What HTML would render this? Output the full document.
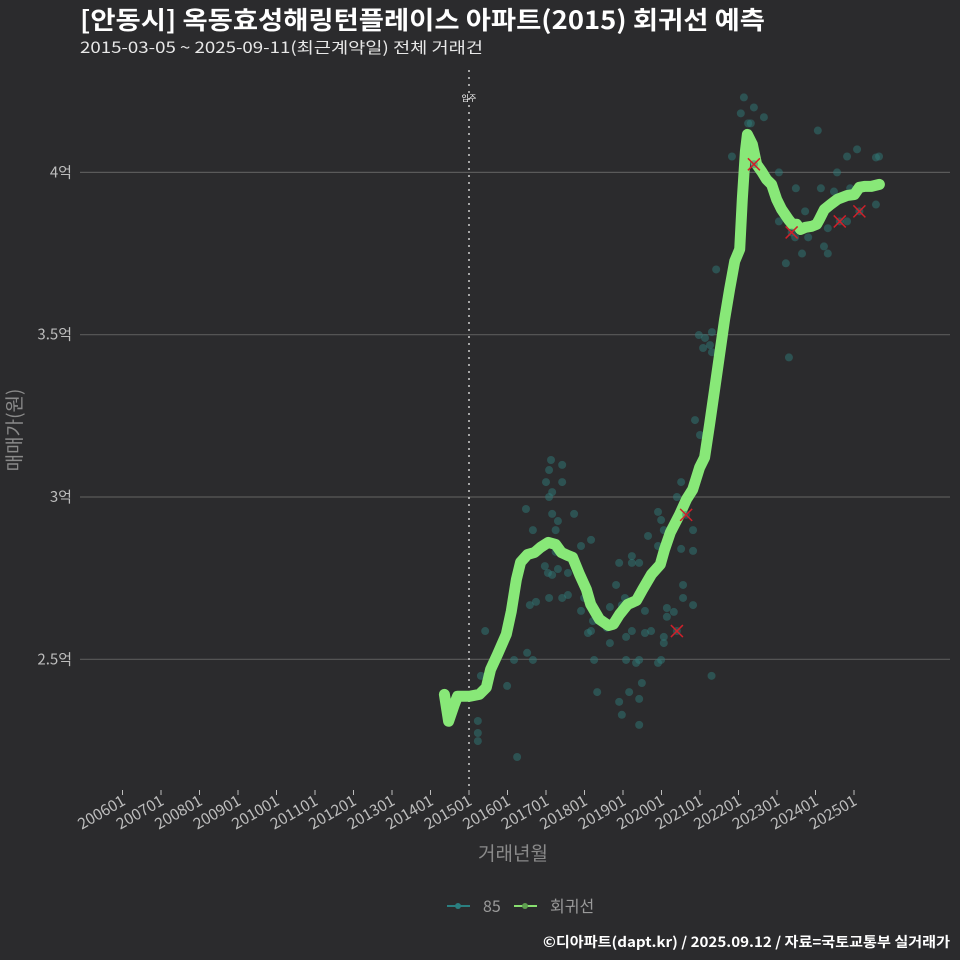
<!DOCTYPE html>
<html><head><meta charset="utf-8">
<style>
html,body{margin:0;padding:0;background:#2b2b2d;}
svg{display:block;font-family:"Noto Sans CJK KR","Liberation Sans",sans-serif;}
</style></head>
<body>
<svg id="chart" width="960" height="960" viewBox="0 0 960 960">
<rect width="960" height="960" fill="#2b2b2d"/>
<text x="80" y="29" fill="#ffffff" font-size="25" font-weight="bold" textLength="685" lengthAdjust="spacingAndGlyphs">[안동시] 옥동효성해링턴플레이스 아파트(2015) 회귀선 예측</text>
<text x="80" y="53" fill="#e8e8e8" font-size="15.5" textLength="403" lengthAdjust="spacingAndGlyphs">2015-03-05 ~ 2025-09-11(최근계약일) 전체 거래건</text>
<g id="grid"></g>
<g id="yaxis"></g>
<g id="xaxis"></g>
<g id="points"></g>
<g id="line"></g>
<g id="marks"></g>
<text x="0" y="0" transform="translate(21,430) rotate(-90)" text-anchor="middle" fill="#8a8a8a" font-size="19">매매가(원)</text>
<text x="513" y="860" text-anchor="middle" fill="#8a8a8a" font-size="19">거래년월</text>
<g>
<g>
<line x1="447" y1="906" x2="470" y2="906" stroke="#2a7f80" stroke-width="2"/>
<circle cx="458" cy="906" r="3" fill="#2a7f80"/>
<text x="483" y="912" fill="#9a9a9a" font-size="16">85</text>
</g>
<g>
<line x1="514" y1="906" x2="537" y2="906" stroke="#88e070" stroke-width="2"/>
<circle cx="525" cy="906" r="3" fill="#5fa050"/>
<text x="550" y="912" fill="#9a9a9a" font-size="16">회귀선</text>
</g>
</g>
<text x="950" y="947" text-anchor="end" fill="#ffffff" font-size="14" font-weight="bold" textLength="407" lengthAdjust="spacingAndGlyphs">©디아파트(dapt.kr) / 2025.09.12 / 자료=국토교통부 실거래가</text>
</svg>
<script>
const yTicks=[2.5,3,3.5,4];
const yTickLabels=["2.5억","3억","3.5억","4억"];
const xTickYears=[2006,2007,2008,2009,2010,2011,2012,2013,2014,2015,2016,2017,2018,2019,2020,2021,2022,2023,2024,2025];
const xTickLabels=["200601","200701","200801","200901","201001","201101","201201","201301","201401","201501","201601","201701","201801","201901","202001","202101","202201","202301","202401","202501"];
const moveInYear=2015.0;
const lineYears=[2014.36,2014.47,2014.62,2014.70,2015.01,2015.27,2015.45,2015.56,2015.74,2015.97,2016.10,2016.23,2016.34,2016.52,2016.70,2016.86,2017.06,2017.25,2017.40,2017.56,2017.69,2017.87,2018.05,2018.16,2018.39,2018.62,2018.75,2018.91,2019.12,2019.35,2019.51,2019.74,2019.97,2020.08,2020.23,2020.47,2020.65,2020.81,2020.99,2021.12,2021.25,2021.38,2021.51,2021.64,2021.77,2021.90,2022.03,2022.10,2022.18,2022.23,2022.36,2022.47,2022.60,2022.73,2022.86,2022.99,2023.12,2023.30,2023.40,2023.51,2023.61,2023.74,2023.90,2024.03,2024.10,2024.23,2024.39,2024.57,2024.83,2025.01,2025.14,2025.27,2025.45,2025.66];
const linePrices=[2.392,2.309,2.361,2.386,2.386,2.392,2.413,2.469,2.515,2.577,2.648,2.746,2.799,2.823,2.829,2.845,2.860,2.854,2.829,2.820,2.814,2.762,2.715,2.669,2.623,2.604,2.608,2.638,2.669,2.681,2.715,2.762,2.792,2.839,2.891,2.946,2.993,3.023,3.091,3.122,3.224,3.331,3.439,3.547,3.640,3.726,3.763,3.917,4.065,4.117,4.086,4.025,4.003,3.978,3.963,3.917,3.886,3.855,3.840,3.840,3.824,3.831,3.834,3.840,3.855,3.886,3.901,3.917,3.929,3.932,3.954,3.957,3.957,3.963];
const ptYears=[2015.42,2015.31,2015.23,2015.23,2015.23,2016.25,2015.99,2016.51,2016.66,2016.17,2016.58,2016.74,2017.08,2017.42,2017.57,2017.05,2017.16,2016.97,2017.31,2017.57,2017.25,2016.66,2016.48,2017.25,2017.31,2017.16,2017.08,2017.16,2017.73,2018.17,2017.91,2017.99,2017.91,2018.22,2018.09,2018.17,2018.66,2018.58,2018.66,2018.82,2018.90,2019.23,2019.23,2019.42,2019.05,2018.97,2018.90,2019.23,2019.08,2019.57,2019.73,2019.57,2020.14,2020.32,2020.14,2020.06,2020.06,2020.56,2020.56,2020.82,2020.82,2020.51,2020.82,2020.06,2019.99,2019.91,2020.40,2020.51,2019.65,2019.91,2019.08,2019.42,2019.34,2019.91,2019.99,2018.25,2018.33,2019.16,2018.90,2019.42,2019.49,2018.97,2019.42,2021.30,2017.42,2017.00,2017.08,2017.13,2017.42,2022.14,2022.40,2022.06,2022.66,2022.25,2022.32,2021.83,2024.06,2025.08,2024.82,2025.57,2025.65,2024.56,2023.05,2023.49,2024.14,2024.48,2024.90,2023.73,2023.05,2023.47,2023.81,2024.32,2024.82,2025.57,2024.22,2024.32,2023.65,2023.23,2023.31,2021.42,2020.97,2021.13,2021.31,2021.26,2021.08,2021.31,2021.00,2020.87];
const ptPrices=[2.587,2.449,2.310,2.273,2.248,2.199,2.418,2.520,2.498,2.498,2.667,2.677,2.689,2.689,2.698,2.766,2.760,2.787,2.778,2.766,2.831,2.898,2.963,2.898,2.926,2.948,3.000,3.015,2.948,2.868,2.849,2.689,2.649,2.618,2.581,2.587,2.550,2.597,2.661,2.729,2.797,2.818,2.797,2.797,2.689,2.667,2.640,2.587,2.569,2.581,2.587,2.649,2.658,2.646,2.631,2.569,2.550,2.729,2.689,2.667,2.834,2.840,2.898,2.898,2.929,2.954,3.000,3.046,2.880,2.849,2.498,2.498,2.489,2.489,2.498,2.498,2.399,2.399,2.369,2.378,2.427,2.329,2.298,2.449,3.046,3.046,3.083,3.114,3.099,4.231,4.200,4.182,4.170,4.151,4.151,4.049,4.129,4.071,4.049,4.046,4.049,4.000,4.000,3.951,3.951,3.941,3.951,3.880,3.849,3.800,3.800,3.828,3.849,3.901,3.772,3.750,3.750,3.720,3.430,3.701,3.499,3.490,3.508,3.468,3.459,3.446,3.191,3.237];
const markYears=[2020.40,2020.64,2022.40,2023.38,2024.63,2025.14];
const markPrices=[2.587,2.945,4.025,3.815,3.849,3.880];

const NS="http://www.w3.org/2000/svg";
function xs(yr){return 469+(yr-2015)*38.5;}
function ys(p){return 497-(p-3)*324.6;}
function mk(tag,attrs,parent){const e=document.createElementNS(NS,tag);for(const k in attrs)e.setAttribute(k,attrs[k]);parent.appendChild(e);return e;}
const grid=document.getElementById('grid'),yax=document.getElementById('yaxis'),xax=document.getElementById('xaxis');
yTicks.forEach((v,i)=>{
  const l=mk('line',{x1:80,x2:950,y1:ys(v),y2:ys(v),stroke:'#5a5a5a','stroke-width':1.2},grid);
  
  
  const t=mk('text',{x:72,y:ys(v)+5,'text-anchor':'end',fill:'#bdbdbd','font-size':15},yax);
  t.textContent=yTickLabels[i];
  
  
});
xTickYears.forEach((yr,i)=>{
  const x=xs(yr);
  const tk=mk('line',{x1:x,x2:x,y1:790,y2:795,stroke:'#bdbdbd','stroke-width':1},xax);
  
  
  const t=mk('text',{x:0,y:0,'text-anchor':'end',fill:'#bdbdbd','font-size':15.5,transform:`translate(${x+4},${804}) rotate(-30)`},xax);
  t.textContent=xTickLabels[i];
  
  
});
const mv=mk('line',{x1:xs(moveInYear),x2:xs(moveInYear),y1:70,y2:790,stroke:'#cfcfcf','stroke-width':1.5,'stroke-dasharray':'2,5'},xax);


const mvt=mk('text',{x:xs(moveInYear),y:101,'text-anchor':'middle',fill:'#ffffff','font-size':8},xax);
mvt.textContent='입주';


const pg=document.getElementById('points');
ptYears.forEach((yr,i)=>{
  const c=mk('circle',{cx:xs(yr),cy:ys(ptPrices[i]),r:4,fill:'#2f7a78','fill-opacity':0.5},pg);
  
  
});
const mg=document.getElementById('marks');
markYears.forEach((yr,i)=>{
  const x=xs(yr),y=ys(markPrices[i]);
  const g=mk('g',{},mg);
  
  
  mk('circle',{cx:x,cy:y,r:4,fill:'#2f7a78','fill-opacity':0.5},g);
  mk('path',{d:`M${x-6},${y-6}L${x+6},${y+6}M${x-6},${y+6}L${x+6},${y-6}`,stroke:'#d0202a','stroke-width':1.5},g);
});
const lg=document.getElementById('line');
const d=lineYears.map((yr,i)=>(i?'L':'M')+xs(yr).toFixed(1)+','+ys(linePrices[i]).toFixed(1)).join('');
const pth=mk('path',{d:d,fill:'none',stroke:'#88e878','stroke-width':11,'stroke-linejoin':'round','stroke-linecap':'round'},lg);


</script>
</body></html>
